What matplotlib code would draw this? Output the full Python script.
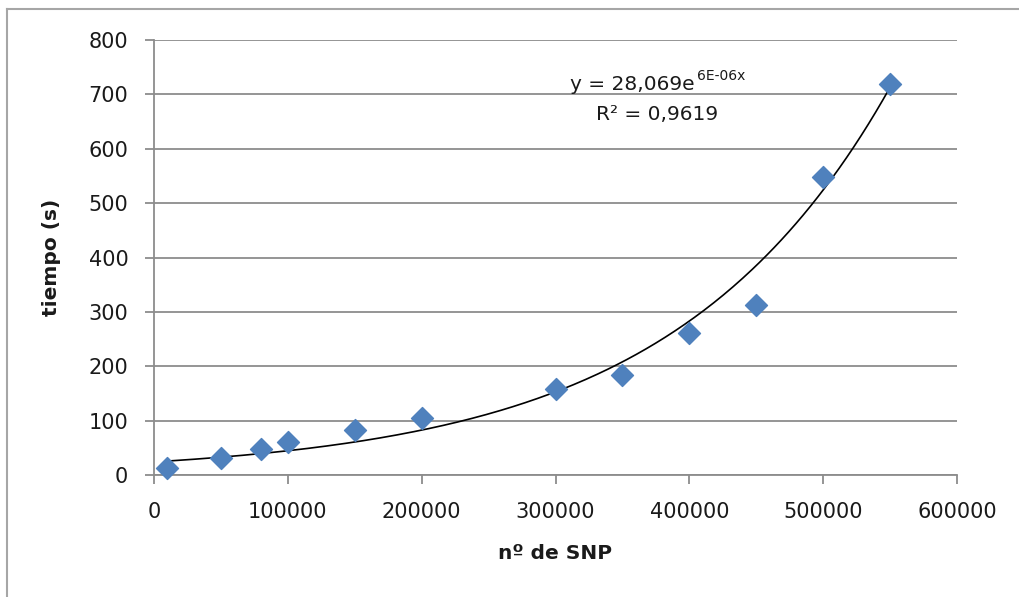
import numpy as np
import matplotlib
matplotlib.use("Agg")
import matplotlib.pyplot as plt
from matplotlib.lines import Line2D

snp = [10000, 50000, 80000, 100000, 150000, 200000, 300000, 350000, 400000, 450000, 500000, 550000]
tiempo = [13, 32, 47, 60, 83, 105, 159, 184, 261, 313, 548, 719]
xticks = [0, 100000, 200000, 300000, 400000, 500000, 600000]
yticks = [0, 100, 200, 300, 400, 500, 600, 700, 800]

plt.rcParams['font.family'] = ['DejaVu Sans']

W, H = 1019, 597
fig = plt.figure(figsize=(W / 100, H / 100), dpi=100)
ax = fig.add_axes([154 / W, 1 - 475 / H, (957 - 154) / W, (475 - 40) / H])

grey = '#8c8c8c'
txt = '#1a1a1a'
ax.set_xlim(0, 600000)
ax.set_ylim(0, 800)
ax.set_xticks(xticks)
ax.set_yticks(yticks)
ax.set_xticklabels([str(v) for v in xticks])
ax.set_yticklabels([str(v) for v in yticks])
ax.grid(axis='y', color=grey, linewidth=1.3)
ax.set_axisbelow(True)
for s in ['top', 'right']:
    ax.spines[s].set_visible(False)
for s in ['left', 'bottom']:
    ax.spines[s].set_color(grey)
    ax.spines[s].set_linewidth(1.3)
ax.tick_params(axis='both', colors=grey, length=6.5, width=1.3, labelsize=15,
               labelcolor=txt, direction='out')
ax.tick_params(axis='x', pad=13)
ax.tick_params(axis='y', pad=12)

# exponential trendline (log-linear least squares, as Excel does)
xs = np.array(snp, dtype=float)
ys = np.array(tiempo, dtype=float)
b, lna = np.polyfit(xs, np.log(ys), 1)
xx = np.linspace(xs.min(), xs.max(), 300)
ax.plot(xx, np.exp(lna) * np.exp(b * xx), color='black', linewidth=1.2, zorder=2)

ax.scatter(snp, tiempo, marker='D', s=125, color='#4f81bd', zorder=3, clip_on=False)

fig.text(695 / W, 1 - 85 / H, 'y = 28,069e', fontsize=14.5, ha='right', va='center', color=txt)
fig.text(697 / W, 1 - 76 / H, '6E-06x', fontsize=10, ha='left', va='center', color=txt)
fig.text(657 / W, 1 - 115 / H, 'R² = 0,9619', fontsize=14.5, ha='center', va='center', color=txt)

ax.set_xlabel('nº de SNP', fontsize=14.5, fontweight='bold', labelpad=16, color=txt)
ax.set_ylabel('tiempo (s)', fontsize=14.5, fontweight='bold', labelpad=20, color=txt)

fig.add_artist(Line2D([7 / W, 7 / W], [0, 1 - 9 / H], color='#a6a6a6', linewidth=1.5, transform=fig.transFigure))
fig.add_artist(Line2D([7 / W, 1], [1 - 9 / H, 1 - 9 / H], color='#a6a6a6', linewidth=1.5, transform=fig.transFigure))

fig.savefig('out.png', dpi=100)
